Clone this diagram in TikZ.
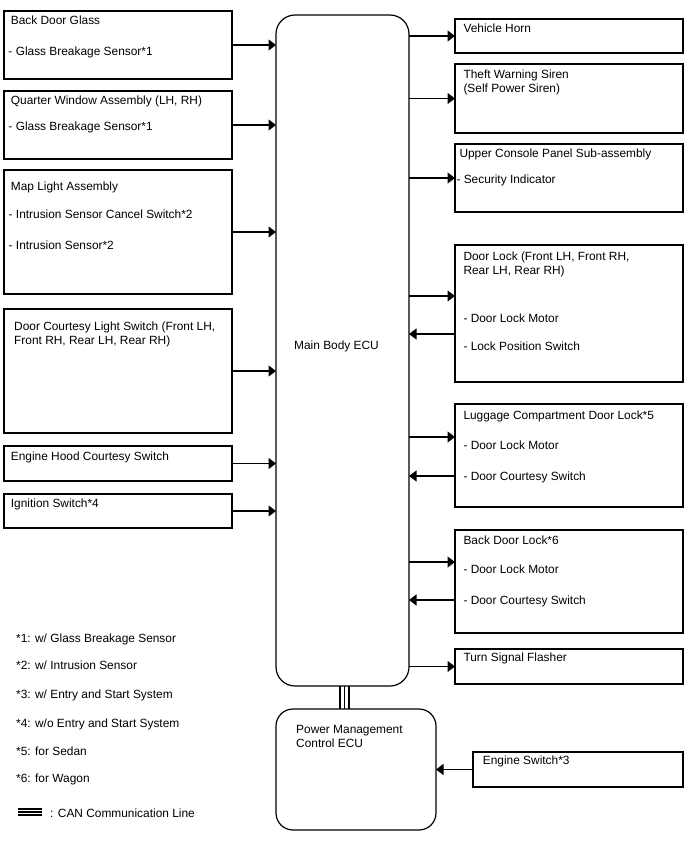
\documentclass[tikz,border=0pt]{standalone}
\usepackage{fontspec}
\setmainfont{Liberation Sans}
\usetikzlibrary{arrows.meta}
\newcommand\fsz{\fontsize{11.9}{14}\selectfont}
\begin{document}
\begin{tikzpicture}[x=1pt,y=-1pt,
  box/.style={draw=black, line width=1.1pt, rectangle, inner sep=0pt, outer sep=0pt, anchor=north west},
  ecubox/.style={draw=black, line width=1.2pt, rounded corners=19pt, inner sep=0pt, outer sep=0pt, anchor=north west},
  lbl/.style={anchor=base west, inner sep=0pt, font=\fsz},
  arr/.style={line width=1.4pt, -{Triangle[length=7.5pt,width=11pt]}},
  can/.style={line width=1.6pt}]
\useasboundingbox (0,0) rectangle (688,852);

% left boxes
\node[box, minimum width=228pt, minimum height=68pt]  (bdg) at (4,11)  {};
\node[box, minimum width=228pt, minimum height=68pt]  (qwa) at (4,91)  {};
\node[box, minimum width=228pt, minimum height=124pt] (mla) at (4,170) {};
\node[box, minimum width=228pt, minimum height=124pt] (dcl) at (4,309) {};
\node[box, minimum width=228pt, minimum height=35pt]  (ehc) at (4,446) {};
\node[box, minimum width=228pt, minimum height=34pt]  (ign) at (4,494) {};

% right boxes
\node[box, minimum width=228pt, minimum height=34pt]  (horn)  at (455,19)  {};
\node[box, minimum width=228pt, minimum height=69pt]  (siren) at (455,64)  {};
\node[box, minimum width=228pt, minimum height=68pt]  (ucp)   at (455,144) {};
\node[box, minimum width=228pt, minimum height=137pt] (dl)    at (455,245) {};
\node[box, minimum width=228pt, minimum height=103pt] (lug)   at (455,404) {};
\node[box, minimum width=228pt, minimum height=103pt] (bdl)   at (455,530) {};
\node[box, minimum width=228pt, minimum height=35pt]  (tsf)   at (455,649) {};
\node[box, minimum width=210pt, minimum height=35pt]  (esw)   at (473,752) {};

% ECUs
\node[ecubox, minimum width=133pt, minimum height=671pt] (ecu) at (276,15) {};
\node[ecubox, rounded corners=17pt, minimum width=160pt, minimum height=121pt] (pmc) at (276,709) {};

% texts left
\node[lbl] (t1)  at (10.7,24.5)  {Back Door Glass};
\node[lbl] (t2)  at (8.3,55.5)   {- Glass Breakage Sensor*1};
\node[lbl] (t3)  at (10.7,104.5) {Quarter Window Assembly (LH, RH)};
\node[lbl] (t4)  at (8.3,130.5)  {- Glass Breakage Sensor*1};
\node[lbl] (t5)  at (10.7,190.2) {Map Light Assembly};
\node[lbl] (t6)  at (8.5,218.8)  {- Intrusion Sensor Cancel Switch*2};
\node[lbl] (t7)  at (8.5,249.5)  {- Intrusion Sensor*2};
\node[lbl] (t8)  at (14,330.2)   {Door Courtesy Light Switch (Front LH,};
\node[lbl] (t9)  at (14,344.2)   {Front RH, Rear LH, Rear RH)};
\node[lbl] (t10) at (10.7,460.2) {Engine Hood Courtesy Switch};
\node[lbl] (t11) at (10.7,507.2) {Ignition Switch*4};

% texts right
\node[lbl] (t12) at (463.3,32.2)  {Vehicle Horn};
\node[lbl] (t13) at (463.3,78.5)  {Theft Warning Siren};
\node[lbl] (t14) at (463.3,92.5)  {(Self Power Siren)};
\node[lbl] (t15) at (459.3,157.8) {Upper Console Panel Sub-assembly};
\node[lbl] (t16) at (456.3,183.5) {- Security Indicator};
\node[lbl] (t17) at (463.3,260.2) {Door Lock (Front LH, Front RH,};
\node[lbl] (t18) at (463.3,274.2) {Rear LH, Rear RH)};
\node[lbl] (t19) at (463.3,322.2) {- Door Lock Motor};
\node[lbl] (t20) at (463.3,350.2) {- Lock Position Switch};
\node[lbl] (t21) at (463.3,419.5) {Luggage Compartment Door Lock*5};
\node[lbl] (t22) at (463.3,449.5) {- Door Lock Motor};
\node[lbl] (t23) at (463.3,480.2) {- Door Courtesy Switch};
\node[lbl] (t24) at (463.3,544.5) {Back Door Lock*6};
\node[lbl] (t25) at (463.3,573.5) {- Door Lock Motor};
\node[lbl] (t26) at (463.3,604.5) {- Door Courtesy Switch};
\node[lbl] (t27) at (463.3,661.8) {Turn Signal Flasher};
\node[lbl] (t28) at (482.7,764.5) {Engine Switch*3};

% ECU texts
\node[lbl] (t29) at (294,349.5) {Main Body ECU};
\node[lbl] (t30) at (296,733.5) {Power Management};
\node[lbl] (t31) at (296,747.5) {Control ECU};

% legend
\node[lbl] (n1) at (16,642.2) {*1: w/ Glass Breakage Sensor};
\node[lbl] (n2) at (16,669.5) {*2: w/ Intrusion Sensor};
\node[lbl] (n3) at (16,698.5) {*3: w/ Entry and Start System};
\node[lbl] (n4) at (16,727.2) {*4: w/o Entry and Start System};
\node[lbl] (n5) at (16,755.2) {*5: for Sedan};
\node[lbl] (n6) at (16,782.2) {*6: for Wagon};
\node[lbl] (n7) at (50,817.5) {: CAN Communication Line};

% arrows into Main Body ECU
\foreach \b in {bdg,qwa,mla,dcl,ehc,ign}
  \draw[arr] (\b.east) -- (\b.east -| ecu.west);

% arrows out of Main Body ECU
\foreach \b in {horn,siren,ucp,tsf}
  \draw[arr] (\b.west -| ecu.east) -- (\b.west);

\coordinate (ydlo) at (0,296);
\coordinate (ydli) at (0,334);
\coordinate (yluo) at (0,437);
\coordinate (ylui) at (0,476);
\coordinate (ybdo) at (0,562);
\coordinate (ybdi) at (0,600);
\draw[arr] (ecu.east |- ydlo) -- (dl.west |- ydlo);
\draw[arr] (dl.west |- ydli) -- (ecu.east |- ydli);
\draw[arr] (ecu.east |- yluo) -- (lug.west |- yluo);
\draw[arr] (lug.west |- ylui) -- (ecu.east |- ylui);
\draw[arr] (ecu.east |- ybdo) -- (bdl.west |- ybdo);
\draw[arr] (bdl.west |- ybdi) -- (ecu.east |- ybdi);

% engine switch to PMC ECU
\draw[arr] (esw.west) -- (esw.west -| pmc.east);

% CAN lines
\coordinate (c1) at (340,700);
\coordinate (c2) at (344.5,700);
\coordinate (c3) at (349,700);
\draw[line width=2pt] (ecu.south -| c1) -- (pmc.north -| c1);
\draw[line width=1pt] (ecu.south -| c2) -- (pmc.north -| c2);
\draw[line width=2pt] (ecu.south -| c3) -- (pmc.north -| c3);

% legend CAN symbol
\coordinate (la1) at (18,809);  \coordinate (lb1) at (42,809);
\coordinate (la2) at (18,812);  \coordinate (lb2) at (42,812);
\coordinate (la3) at (18,815);  \coordinate (lb3) at (42,815);
\draw[line width=2pt] (la1) -- (lb1);
\draw[line width=2pt] (la2) -- (lb2);
\draw[line width=2pt] (la3) -- (lb3);
\end{tikzpicture}
\end{document}
